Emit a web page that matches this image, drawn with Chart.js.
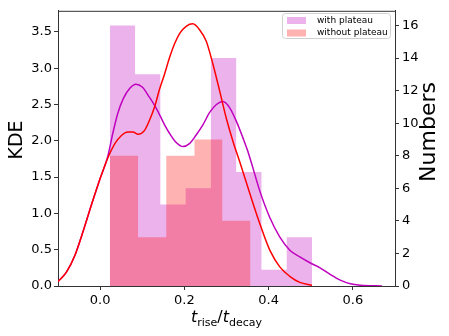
<!DOCTYPE html>
<html>
<head>
<meta charset="utf-8">
<script src="https://cdn.jsdelivr.net/npm/chart.js@4.4.1/dist/chart.umd.min.js"></script>
<style>
  html, body { margin: 0; padding: 0; background: #fff; }
</style>
</head>
<body>
<canvas id="grafico" width="449" height="336"></canvas>
<script>
// ── DATOS ─────────────────────────────────────
// histograma "with plateau" (eje derecho, Numbers)
const edgesPlateau = [0.023, 0.083, 0.143, 0.203, 0.263, 0.323, 0.383, 0.443, 0.503];
const countsPlateau = [16, 13, 5, 6, 14, 7, 1, 3];

// histograma "without plateau"
const edgesNoPlateau = [0.023, 0.090, 0.157, 0.224, 0.290, 0.357];
const countsNoPlateau = [8, 3, 8, 9, 4];

// curvas KDE (eje izquierdo)
const kdeXPlateau = [-0.10, -0.08, -0.06, -0.04, -0.02, 0.00, 0.018, 0.030, 0.042, 0.055, 0.070, 0.085,
  0.100, 0.117, 0.130, 0.141, 0.153, 0.165, 0.180, 0.197, 0.212, 0.228, 0.244, 0.260, 0.276, 0.292,
  0.308, 0.324, 0.339, 0.351, 0.363, 0.379, 0.403, 0.427, 0.451, 0.474, 0.498, 0.522, 0.546, 0.570,
  0.594, 0.618, 0.669];
const kdeYPlateau = [0.06, 0.19, 0.42, 0.76, 1.13, 1.48, 1.78, 2.10, 2.38, 2.58, 2.72, 2.78,
  2.74, 2.60, 2.48, 2.36, 2.22, 2.10, 1.98, 1.92, 1.96, 2.08, 2.22, 2.39, 2.50, 2.54,
  2.45, 2.26, 2.04, 1.85, 1.62, 1.31, 0.94, 0.67, 0.49, 0.40, 0.32, 0.25, 0.16, 0.08,
  0.03, 0.01, 0.0];

const kdeXNoPlateau = [-0.10, -0.08, -0.06, -0.04, -0.02, 0.00, 0.018, 0.035, 0.050, 0.066, 0.078, 0.090,
  0.105, 0.117, 0.130, 0.141, 0.153, 0.165, 0.177, 0.189, 0.205, 0.220, 0.236, 0.252, 0.268, 0.284,
  0.300, 0.316, 0.332, 0.355, 0.379, 0.403, 0.427, 0.451, 0.474, 0.503];
const kdeYNoPlateau = [0.06, 0.19, 0.42, 0.76, 1.13, 1.48, 1.76, 1.96, 2.07, 2.12, 2.12, 2.09,
  2.14, 2.28, 2.48, 2.71, 2.92, 3.15, 3.34, 3.48, 3.58, 3.61, 3.53, 3.37, 3.05, 2.68,
  2.30, 1.98, 1.70, 1.28, 0.86, 0.49, 0.26, 0.13, 0.05, 0.01];

// marcas de los ejes
const xTicks = [0.0, 0.2, 0.4, 0.6];
const kdeTicks = [0.0, 0.5, 1.0, 1.5, 2.0, 2.5, 3.0, 3.5];
const numberTicks = [0, 2, 4, 6, 8, 10, 12, 14, 16];

const labelPlateau = 'with plateau';
const labelNoPlateau = 'without plateau';

// ── ESTILOS ───────────────────────────────────
const FUENTE = "'DejaVu Sans', sans-serif";
const colorViolet = 'rgba(191, 0, 191, 0.3)';
const colorSalmon = 'rgba(255, 0, 0, 0.3)';
const colorEje = '#333';

Chart.defaults.font.family = FUENTE;
Chart.defaults.color = '#000';

const puntosHist = (edges, counts) => {
    const pts = counts.map((c, i) => ({ x: edges[i], y: c }));
    pts.push({ x: edges[edges.length - 1], y: counts[counts.length - 1] });
    return pts;
};
const puntosKde = (xs, ys) => xs.map((x, i) => ({ x, y: ys[i] }));

// texto girado (se lee de abajo arriba, como matplotlib)
const textoVertical = (ctx, texto, cx, cy, fuente) => {
    ctx.save();
    ctx.translate(cx, cy);
    ctx.rotate(-Math.PI / 2);
    ctx.font = fuente;
    ctx.textAlign = 'center';
    ctx.textBaseline = 'middle';
    ctx.fillStyle = '#000';
    ctx.fillText(texto, 0, 0);
    ctx.restore();
};

// marco superior + títulos de ejes + leyenda
const extras = {
    id: 'extras',
    afterDraw(chart) {
        const { ctx, chartArea: a } = chart;
        ctx.save();

        // spine superior
        ctx.strokeStyle = colorEje;
        ctx.lineWidth = 1;
        ctx.beginPath();
        ctx.moveTo(a.left, a.top + 0.5);
        ctx.lineTo(a.right, a.top + 0.5);
        ctx.stroke();

        // títulos de los ejes y
        textoVertical(ctx, 'KDE', 17.5, 140, `19px ${FUENTE}`);
        textoVertical(ctx, 'Numbers', 429, 132, `22px ${FUENTE}`);

        // título x: t_rise / t_decay
        const partes = [
            { t: 't', f: `italic 16px ${FUENTE}`, dy: 0 },
            { t: 'rise', f: `11px ${FUENTE}`, dy: 3.5 },
            { t: '/', f: `16px ${FUENTE}`, dy: 0 },
            { t: 't', f: `italic 16px ${FUENTE}`, dy: 0 },
            { t: 'decay', f: `11px ${FUENTE}`, dy: 3.5 },
        ];
        let total = 0;
        partes.forEach(p => { ctx.font = p.f; p.w = ctx.measureText(p.t).width; total += p.w; });
        let x = (a.left + a.right) / 2 - total / 2;
        const base = 322;
        ctx.fillStyle = '#000';
        ctx.textBaseline = 'alphabetic';
        ctx.textAlign = 'left';
        partes.forEach(p => { ctx.font = p.f; ctx.fillText(p.t, x, base + p.dy); x += p.w; });

        // leyenda
        const bx = 282.5, by = 13.5, bw = 108, bh = 25;
        ctx.fillStyle = 'rgba(255,255,255,0.8)';
        ctx.strokeStyle = '#d0d0d0';
        ctx.beginPath();
        ctx.roundRect(bx, by, bw, bh, 3);
        ctx.fill();
        ctx.stroke();
        const items = [
            { label: labelPlateau, color: colorViolet, y: 20.5 },
            { label: labelNoPlateau, color: colorSalmon, y: 33 },
        ];
        ctx.font = `9px ${FUENTE}`;
        ctx.textBaseline = 'middle';
        items.forEach(it => {
            ctx.fillStyle = it.color;
            ctx.fillRect(287, it.y - 3.5, 19, 7);
            ctx.fillStyle = '#000';
            ctx.fillText(it.label, 317, it.y);
        });
        ctx.restore();
    }
};

const ctx = document.getElementById('grafico');
new Chart(ctx, {
    type: 'line',
    data: {
        datasets: [
            {
                label: labelNoPlateau + ' KDE',
                data: puntosKde(kdeXNoPlateau, kdeYNoPlateau),
                borderColor: '#ff0000',
                borderWidth: 1.5,
                pointRadius: 0,
                cubicInterpolationMode: 'monotone',
                fill: false,
                yAxisID: 'y',
                order: 1,
            },
            {
                label: labelPlateau + ' KDE',
                data: puntosKde(kdeXPlateau, kdeYPlateau),
                borderColor: '#bf00bf',
                borderWidth: 1.5,
                pointRadius: 0,
                cubicInterpolationMode: 'monotone',
                fill: false,
                yAxisID: 'y',
                order: 2,
            },
            {
                label: labelNoPlateau,
                data: puntosHist(edgesNoPlateau, countsNoPlateau),
                stepped: true,
                borderColor: 'rgba(0,0,0,0)',
                borderWidth: 0,
                backgroundColor: colorSalmon,
                pointRadius: 0,
                fill: 'origin',
                yAxisID: 'y1',
                order: 3,
            },
            {
                label: labelPlateau,
                data: puntosHist(edgesPlateau, countsPlateau),
                stepped: true,
                borderColor: 'rgba(0,0,0,0)',
                borderWidth: 0,
                backgroundColor: colorViolet,
                pointRadius: 0,
                fill: 'origin',
                yAxisID: 'y1',
                order: 4,
            },
        ]
    },
    options: {
        responsive: false,
        animation: false,
        devicePixelRatio: 1,
        layout: { padding: { top: 7, left: 0, right: 0, bottom: 0 } },
        plugins: {
            legend: { display: false },
            tooltip: { enabled: false },
        },
        scales: {
            x: {
                type: 'linear',
                min: -0.1,
                max: 0.7,
                afterBuildTicks: s => { s.ticks = xTicks.map(v => ({ value: v })); },
                afterFit: s => { s.height = 50; },
                grid: { drawOnChartArea: false, tickLength: 4, tickColor: colorEje },
                border: { color: colorEje, width: 1 },
                ticks: {
                    font: { size: 13 },
                    color: '#000',
                    padding: 3,
                    maxRotation: 0,
                    callback: v => v.toFixed(1),
                },
            },
            y: {
                position: 'left',
                min: 0,
                max: 3.79,
                afterBuildTicks: s => { s.ticks = kdeTicks.map(v => ({ value: v })); },
                afterFit: s => { s.width = 58; },
                grid: { drawOnChartArea: false, tickLength: 4, tickColor: colorEje },
                border: { color: colorEje, width: 1 },
                ticks: {
                    font: { size: 13 },
                    color: '#000',
                    padding: 2,
                    callback: v => v.toFixed(1),
                },
            },
            y1: {
                position: 'right',
                min: 0,
                max: 16.9,
                afterBuildTicks: s => { s.ticks = numberTicks.map(v => ({ value: v })); },
                afterFit: s => { s.width = 54; },
                grid: { drawOnChartArea: false, tickLength: 4, tickColor: colorEje },
                border: { color: colorEje, width: 1 },
                ticks: {
                    font: { size: 13 },
                    color: '#000',
                    padding: 3,
                    callback: v => String(v),
                },
            },
        }
    },
    plugins: [extras],
});
</script>
</body>
</html>
